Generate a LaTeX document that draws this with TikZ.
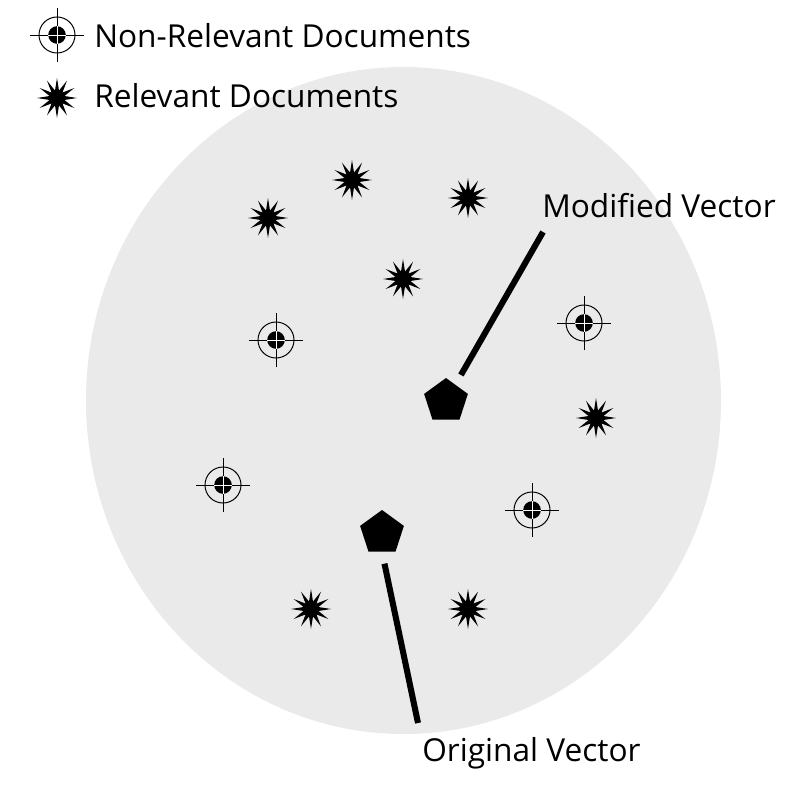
\documentclass[tikz,border=0pt]{standalone}
\usepackage{fontspec}
\setmainfont{Open Sans}
\usepackage{xcolor}
\usetikzlibrary{shapes.geometric}

\definecolor{spacegray}{HTML}{EAEAEA}

\begin{document}
\begin{tikzpicture}[x=0.025cm, y=-0.025cm]
    \tikzstyle{relevant} = [star, star points=12, star point ratio=2.6, fill=black, minimum size=1cm, inner sep=0pt]
    \tikzstyle{nonrelevant} = [circle, draw=black, line width=0.7pt, minimum size=0.9cm, inner sep=0pt]
    \tikzstyle{vector} = [regular polygon, regular polygon sides=5, fill=black, minimum size=1.15cm, inner sep=0pt]
    \tikzstyle{label} = [anchor=base west, inner sep=0pt, font=\fontsize{22.5}{27}\selectfont]
    \tikzstyle{pointer} = [line width=4.3pt]

    \useasboundingbox (0,0) rectangle (800,800);

    % Document space
    \fill[spacegray] (403.5,400.5) ellipse [x radius=317.5, y radius=333.5];

    % Legend
    \node [nonrelevant] (legnon) at (57,35) {};
    \node [relevant] (legrel) at (57,98) {};
    \node [label] (legnontext) at (94,48) {Non-Relevant Documents};
    \node [label] (legreltext) at (94,108) {Relevant Documents};

    % Relevant documents
    \node [relevant] (r1) at (352,180) {};
    \node [relevant] (r2) at (268,218) {};
    \node [relevant] (r3) at (468,198) {};
    \node [relevant] (r4) at (403,279) {};
    \node [relevant] (r5) at (596,418) {};
    \node [relevant] (r6) at (311,609) {};
    \node [relevant] (r7) at (468,609) {};

    % Non-relevant documents
    \node [nonrelevant] (n1) at (276,340) {};
    \node [nonrelevant] (n2) at (584,323) {};
    \node [nonrelevant] (n3) at (223,485) {};
    \node [nonrelevant] (n4) at (532,510) {};

    \foreach \n in {legnon,n1,n2,n3,n4} {
        \fill (\n) circle (0.22cm);
        \draw [line width=0.7pt] (\n) ++(-0.675cm,0) -- ++(1.35cm,0);
        \draw [line width=0.7pt] (\n) ++(0,-0.675cm) -- ++(0,1.35cm);
        \draw [white, line width=0.7pt] (\n) ++(-0.22cm,0) -- ++(0.44cm,0);
        \draw [white, line width=0.7pt] (\n) ++(0,-0.22cm) -- ++(0,0.44cm);
    }

    % Query vectors
    \node [vector] (modvec) at (446,401) {};
    \node [vector] (origvec) at (382,533) {};
    \node [label] (modtext) at (542,218) {Modified Vector};
    \node [label] (origtext) at (422,761) {Original Vector};
    \coordinate (modtip) at (543,232);
    \coordinate (origtip) at (418,723);

    % Pointers
    \draw [pointer, shorten <=0.75cm] (modvec.center) -- (modtip);
    \draw [pointer, shorten <=0.3cm] (origvec.south) -- (origtip);
\end{tikzpicture}
\end{document}
